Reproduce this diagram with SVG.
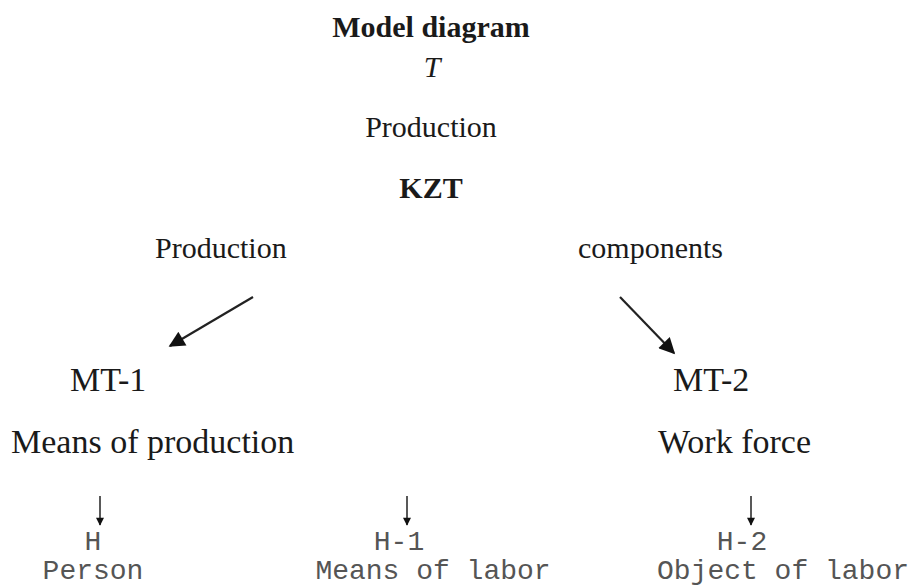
<svg xmlns="http://www.w3.org/2000/svg" width="914" height="587" viewBox="0 0 914 587">
<style>
.s{font-family:"Liberation Serif","Times New Roman",serif;fill:#1a1a1a;font-size:30px}
.b{font-weight:bold}
.big{font-size:34px}
.m{font-family:"Liberation Mono","Courier New",monospace;fill:#555;font-size:28px}
.c{stroke:#222;stroke-width:2.2;fill:none}
.d{stroke:#222;stroke-width:1.5;fill:none}
</style>
<defs>
<marker id="ah" viewBox="0 0 10 10" refX="9" refY="5" markerWidth="9" markerHeight="8" markerUnits="userSpaceOnUse" orient="auto"><path d="M0,0 L10,5 L0,10 z" fill="#111"/></marker>
<marker id="big" viewBox="0 0 10 10" refX="9" refY="5" markerWidth="18" markerHeight="16" markerUnits="userSpaceOnUse" orient="auto"><path d="M0,0 L10,5 L0,10 z" fill="#111"/></marker>
</defs>
<rect width="914" height="587" fill="#fff"/>
<g id="title"><text class="s b" x="431" y="37" text-anchor="middle">Model diagram</text>
<text class="s" x="432" y="77" text-anchor="middle" font-style="italic">T</text></g>
<g id="production-top"><text class="s" x="431" y="137" text-anchor="middle">Production</text></g>
<g id="kzt"><text class="s b" x="431" y="198" text-anchor="middle">KZT</text></g>
<g id="production-left"><text class="s" x="155" y="258">Production</text></g>
<g id="components"><text class="s" x="578" y="258">components</text></g>
<g id="mt1"><text class="s big" x="70" y="391">MT-1</text>
<text class="s big" x="11" y="453">Means of production</text></g>
<g id="mt2"><text class="s big" x="673" y="391">MT-2</text>
<text class="s big" x="658" y="453">Work force</text></g>
<g id="h"><text class="m" x="93" y="550" text-anchor="middle">H</text>
<text class="m" x="93" y="579" text-anchor="middle">Person</text></g>
<g id="h1"><text class="m" x="399" y="550" text-anchor="middle">H-1</text>
<text class="m" x="433" y="579" text-anchor="middle">Means of labor</text></g>
<g id="h2"><text class="m" x="742" y="550" text-anchor="middle">H-2</text>
<text class="m" x="783" y="579" text-anchor="middle">Object of labor</text></g>
<g id="connectors">
<line class="c" x1="253" y1="297" x2="170" y2="346" marker-end="url(#big)"/>
<line class="c" x1="620" y1="297" x2="674" y2="353" marker-end="url(#big)"/>
<line class="d" x1="100" y1="496" x2="100" y2="525" marker-end="url(#ah)"/>
<line class="d" x1="407" y1="496" x2="407" y2="525" marker-end="url(#ah)"/>
<line class="d" x1="751" y1="496" x2="751" y2="525" marker-end="url(#ah)"/>
</g>
</svg>
